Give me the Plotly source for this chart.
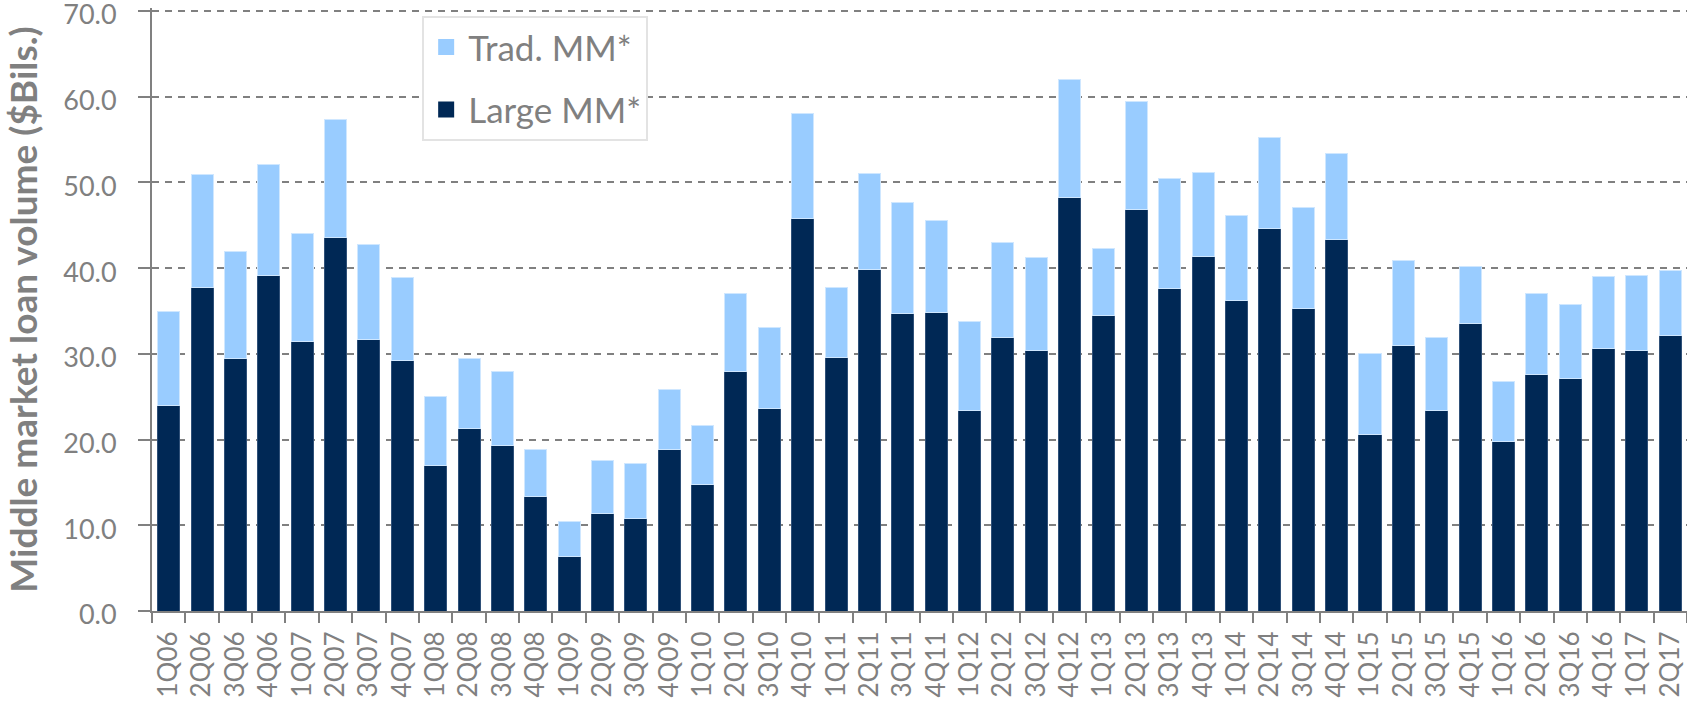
import plotly.graph_objects as go

quarters = [
    "1Q06", "2Q06", "3Q06", "4Q06", "1Q07", "2Q07", "3Q07", "4Q07",
    "1Q08", "2Q08", "3Q08", "4Q08", "1Q09", "2Q09", "3Q09", "4Q09",
    "1Q10", "2Q10", "3Q10", "4Q10", "1Q11", "2Q11", "3Q11", "4Q11",
    "1Q12", "2Q12", "3Q12", "4Q12", "1Q13", "2Q13", "3Q13", "4Q13",
    "1Q14", "2Q14", "3Q14", "4Q14", "1Q15", "2Q15", "3Q15", "4Q15",
    "1Q16", "2Q16", "3Q16", "4Q16", "1Q17", "2Q17",
]

large_mm = [
    24.0, 37.7, 29.5, 39.1, 31.5, 43.6, 31.7, 29.2,
    17.0, 21.3, 19.3, 13.4, 6.4, 11.4, 10.8, 18.9,
    14.8, 27.9, 23.6, 45.8, 29.6, 39.8, 34.7, 34.8,
    23.4, 31.9, 30.4, 48.2, 34.5, 46.8, 37.6, 41.4,
    36.2, 44.6, 35.3, 43.4, 20.6, 31.0, 23.4, 33.6,
    19.8, 27.6, 27.1, 30.6, 30.4, 32.2,
]

trad_mm = [
    11.0, 13.2, 12.5, 13.0, 12.6, 13.7, 11.1, 9.7,
    8.0, 8.2, 8.7, 5.4, 4.1, 6.2, 6.4, 6.9,
    6.8, 9.2, 9.5, 12.2, 8.2, 11.2, 13.0, 10.8,
    10.4, 11.1, 10.9, 13.8, 7.8, 12.7, 12.9, 9.8,
    9.9, 10.7, 11.8, 10.0, 9.4, 9.9, 8.5, 6.6,
    7.0, 9.5, 8.7, 8.4, 8.7, 7.5,
]

series_names = ["Large MM*", "Trad. MM*"]
y_ticks = [0, 10, 20, 30, 40, 50, 60, 70]
y_tick_text = ["0.0", "10.0", "20.0", "30.0", "40.0", "50.0", "60.0", "70.0"]

DARK = "#002855"
LIGHT = "#99CCFF"
GREY = "#808080"
FONT = "Lato"

fig = go.Figure()
fig.add_trace(go.Bar(
    x=quarters, y=large_mm, name=series_names[0],
    marker=dict(color=DARK, line=dict(color="#2f5078", width=1)),
    showlegend=False,
))
fig.add_trace(go.Bar(
    x=quarters, y=trad_mm, name=series_names[1],
    marker=dict(color=LIGHT, line=dict(color="#cfe7ff", width=1)),
    showlegend=False,
))
# legend swatches (Trad. listed first, as in the reference)
fig.add_trace(go.Scatter(
    x=[None], y=[None], mode="markers", name=series_names[1],
    marker=dict(symbol="square", size=16, color=LIGHT), legendgroup="a",
))
fig.add_trace(go.Scatter(
    x=[None], y=[None], mode="markers", name=series_names[0],
    marker=dict(symbol="square", size=16, color=DARK), legendgroup="b",
))

fig.update_layout(
    width=1687, height=707,
    barmode="stack", bargap=0.34,
    paper_bgcolor="white", plot_bgcolor="white",
    margin=dict(l=152, r=0, t=8, b=96, autoexpand=False),
    font=dict(family=FONT, color=GREY),
    legend=dict(
        x=0.176, y=0.987, xanchor="left", yanchor="top",
        traceorder="grouped", tracegroupgap=14,
        bgcolor="white", bordercolor="#e3e3e3", borderwidth=2,
        font=dict(family=FONT, size=35, color=GREY),
        itemwidth=34,
    ),
    showlegend=True,
)

fig.update_xaxes(
    type="category", automargin=False,
    range=[-0.5, len(quarters) - 0.5],
    showline=True, linecolor=GREY, linewidth=2,
    ticks="outside", tickson="boundaries", ticklen=10, tickcolor=GREY, tickwidth=2,
    tickangle=-90, tickfont=dict(family=FONT, size=26, color=GREY),
    ticklabelstandoff=8, ticklabeloverflow="allow",
    showgrid=False, zeroline=False,
)

fig.update_yaxes(
    range=[0, 70.35], automargin=False,
    tickvals=y_ticks, ticktext=y_tick_text,
    showline=True, linecolor=GREY, linewidth=2,
    ticks="outside", ticklen=12, tickcolor=GREY, tickwidth=2,
    tickfont=dict(family=FONT, size=27, color=GREY),
    ticklabelstandoff=16, ticklabelshift=4, ticklabeloverflow="allow",
    showgrid=True, gridcolor=GREY, gridwidth=1.5, griddash="7px,6px",
    zeroline=False,
    title=dict(
        text="<b>Middle market loan volume ($Bils.)</b>",
        font=dict(family=FONT, size=37, color=GREY),
        standoff=16,
    ),
)

fig.write_html(
    "out.html",
    config={"displayModeBar": False},
    post_script="document.body.style.margin='0';document.body.style.overflow='hidden';",
)
